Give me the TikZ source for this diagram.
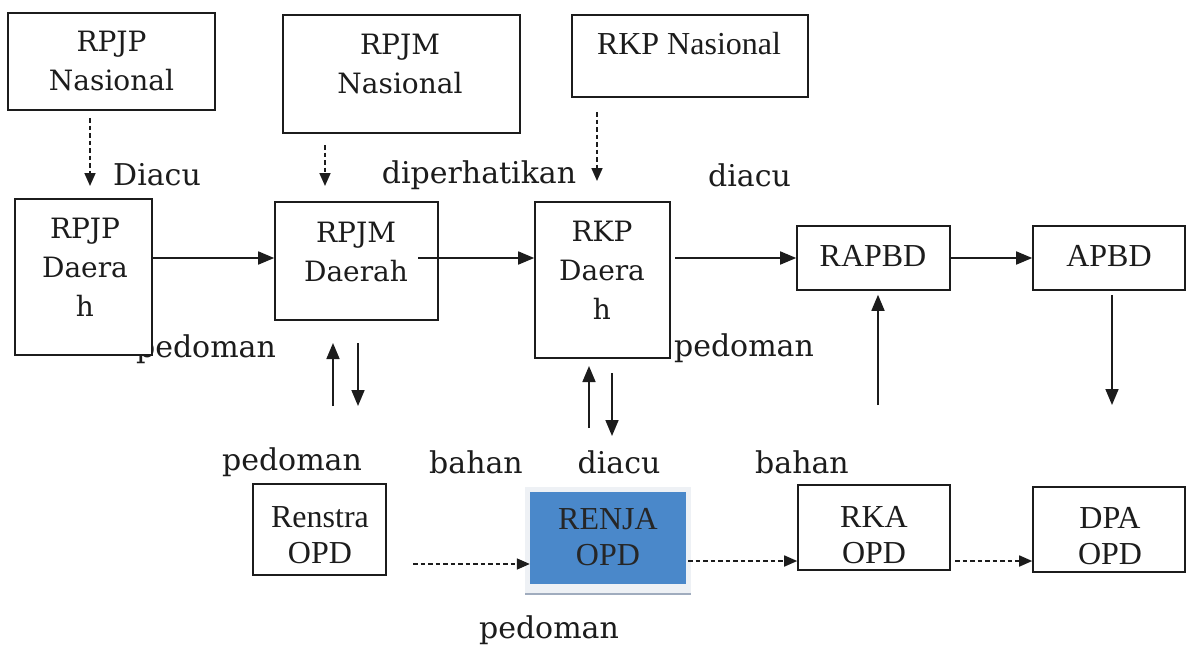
\documentclass[tikz,border=0pt]{standalone}
\usepackage{fontspec}
\setmainfont{DejaVu Serif}
\newfontfamily\tms{Liberation Serif}
\usetikzlibrary{arrows.meta}
\definecolor{ink}{RGB}{28,28,28}
\definecolor{renjablue}{RGB}{74,136,202}
\definecolor{renjashade}{RGB}{238,241,245}
\definecolor{renjaedge}{RGB}{160,172,190}
\tikzset{
  box/.style={draw=ink, line width=1.6pt, fill=white, inner sep=0pt},
  cent/.style={font=\fontsize{28}{39}\selectfont, text=ink, align=center, inner sep=0pt},
  tim/.style={font=\tms\fontsize{32}{36}\selectfont, text=ink, align=center, inner sep=0pt},
  lab/.style={font=\fontsize{30}{36}\selectfont, text=ink, inner sep=0pt},
  arr/.style={draw=ink, line width=1.7pt, -{Triangle[length=16pt,width=13pt]}},
  darr/.style={draw=ink, line width=1.7pt, dash pattern=on 4.5pt off 3pt, -{Triangle[length=13pt,width=11pt]}},
}
\begin{document}
\begin{tikzpicture}[x=1pt,y=-1pt]
\useasboundingbox (0,0) rectangle (1189,646);
\fill[white] (0,0) rectangle (1189,646);

% labels drawn first (box covers part of left "pedoman")
\node[lab, anchor=base] (lpedl) at (206,357) {pedoman};
\node[lab, anchor=base] (lpedr) at (744,356) {pedoman};

% top row
\node[box, minimum width=207pt, minimum height=97pt] (rpjpn) at (111.5,61.5) {};
\node[cent] (rpjpnt) at (111.5,61) {RPJP\\Nasional};
\node[box, minimum width=237pt, minimum height=118pt] (rpjmn) at (401.5,74) {};
\node[cent] (rpjmnt) at (400,63.5) {RPJM\\Nasional};
\node[box, minimum width=236pt, minimum height=82pt] (rkpn) at (690,56) {};
\node[tim] (rkpnt) at (689,44) {RKP Nasional};

% middle row
\node[box, minimum width=137pt, minimum height=156pt] (rpjpd) at (83.5,277) {};
\node[cent] (rpjpdt) at (85,267) {RPJP\\Daera\\h};
\node[box, minimum width=163pt, minimum height=118pt] (rpjmd) at (356.5,261) {};
\node[cent] (rpjmdt) at (356,251.5) {RPJM\\Daerah};
\node[box, minimum width=135pt, minimum height=156pt] (rkpd) at (602.5,280) {};
\node[cent] (rkpdt) at (602,270) {RKP\\Daera\\h};
\node[box, minimum width=153pt, minimum height=64pt] (rapbd) at (873.5,258) {};
\node[tim] (rapbdt) at (873,256) {RAPBD};
\node[box, minimum width=152pt, minimum height=64pt] (apbd) at (1109,258) {};
\node[tim] (apbdt) at (1109,256) {APBD};

% top labels
\node[lab, anchor=west] (ldiacu1) at (113,175) {Diacu};
\node[lab] (ldiper) at (479,175) {diperhatikan};
\node[lab] (ldiacu2) at (749.5,175) {diacu};

% lower labels
\node[lab] (lpedb) at (292,462) {pedoman};
\node[lab] (lbah1) at (476,462) {bahan};
\node[lab] (ldiacu3) at (619,462) {diacu};
\node[lab] (lbah2) at (802,462) {bahan};
\node[lab] (lpedbot) at (549,630) {pedoman};

% bottom row
\node[box, minimum width=133pt, minimum height=91pt] (renstra) at (319.5,529.5) {};
\node[tim] (renstrat) at (320,535) {Renstra\\OPD};
\fill[renjashade] (525,487) rectangle (691,595);
\draw[renjaedge, line width=1.5pt] (525,594) -- (691,594);
\node[fill=renjablue, minimum width=156pt, minimum height=92pt, inner sep=0pt] (renja) at (608,538) {};
\node[tim, text=black!85] (renjat) at (608,537.5) {RENJA\\OPD};
\node[box, minimum width=152pt, minimum height=85pt] (rka) at (874,527.5) {};
\node[tim] (rkat) at (874,535) {RKA\\OPD};
\node[box, minimum width=152pt, minimum height=85pt] (dpa) at (1109,529.5) {};
\node[tim] (dpat) at (1110,536.5) {DPA\\OPD};

% coordinates for free ends
\coordinate (d1s) at (90,118);  \coordinate (d1e) at (90,186);
\coordinate (d2s) at (325,145); \coordinate (d2e) at (325,186);
\coordinate (d3s) at (597,112); \coordinate (d3e) at (597,181);
\coordinate (h2s) at (418,258);
\coordinate (h3s) at (675,258);
\coordinate (u1s) at (333,406); \coordinate (u1e) at (333,343);
\coordinate (w1s) at (358,343); \coordinate (w1e) at (358,406);
\coordinate (u2s) at (589,428); \coordinate (u2e) at (589,366);
\coordinate (w2s) at (612,373); \coordinate (w2e) at (612,436);
\coordinate (u3s) at (878,405);
\coordinate (w3e) at (1112,405);
\coordinate (b1s) at (413,564);
\coordinate (b2s) at (688,561);
\coordinate (b3s) at (955,561);

% dashed arrows from national plans
\draw[darr] (d1s) -- (d1e);
\draw[darr] (d2s) -- (d2e);
\draw[darr] (d3s) -- (d3e);

% horizontal arrows
\draw[arr] (rpjpd.east |- h2s) -- (rpjmd.west |- h2s);
\draw[arr] (h2s) -- (rkpd.west |- h2s);
\draw[arr] (h3s) -- (rapbd.west |- h3s);
\draw[arr] (rapbd.east) -- (apbd.west);

% vertical arrows
\draw[arr] (u1s) -- (u1e);
\draw[arr] (w1s) -- (w1e);
\draw[arr] (u2s) -- (u2e);
\draw[arr] (w2s) -- (w2e);
\draw[arr] (u3s) -- ([yshift=-4pt]rapbd.south -| u3s);
\draw[arr] ([yshift=-4pt]apbd.south -| w3e) -- (w3e);

% dashed arrows bottom row
\draw[darr] (b1s) -- (renja.west |- b1s);
\draw[darr] (b2s) -- (rka.west |- b2s);
\draw[darr] (b3s) -- (dpa.west |- b3s);
\end{tikzpicture}
\end{document}
